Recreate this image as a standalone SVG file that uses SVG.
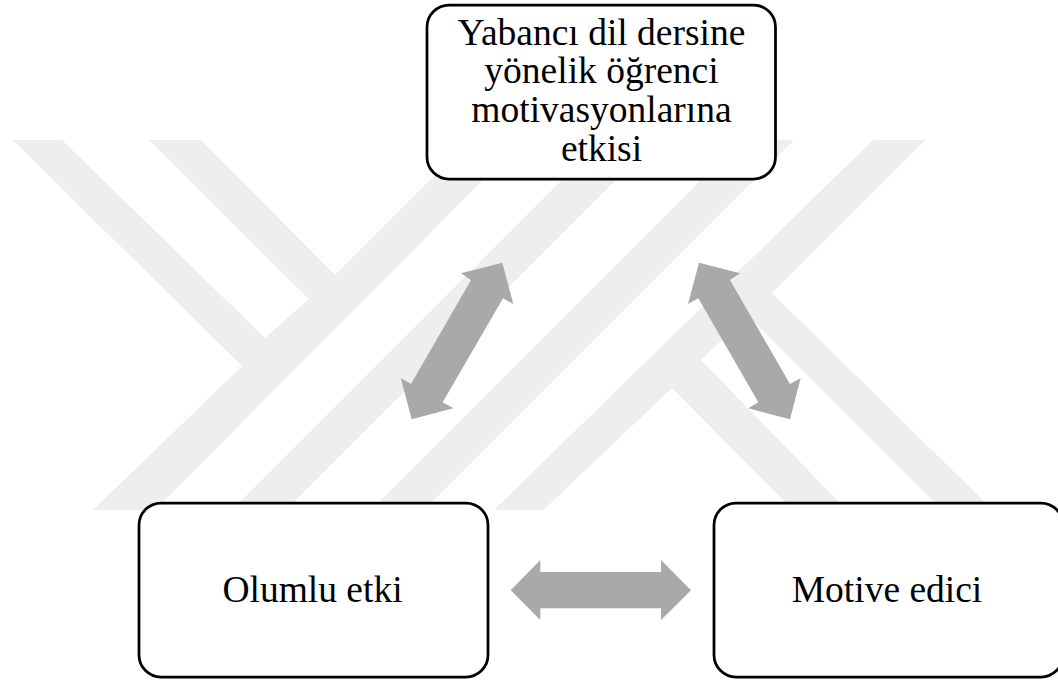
<svg xmlns="http://www.w3.org/2000/svg" width="1058" height="680" viewBox="0 0 1058 680">
<style>
.wm{fill:#eeeeee}
.box{fill:#fff;stroke:#000;stroke-width:2.75}
.arr{fill:#a9a9a9}
text{font-family:"Liberation Serif","Times New Roman",serif;font-size:37.5px;fill:#000;text-anchor:middle}
</style>
<rect width="1058" height="680" fill="#fff"/>
<g id="watermark">
<polygon class="wm" points="12.5,140 62,140 265,338 309,299 149,140 201,140 335,275 470,140 523,140 155,510 93,510 242,366"/>
<polygon class="wm" points="602,140 656,140 286,510 232,510"/>
<polygon class="wm" points="741,140 794,140 424,510 371,510"/>
<polygon class="wm" points="873,140 925.5,140 772,293 993,510 942,510 747.5,315.5 701,360 847,510 793,510 672,388 543.5,510 494,510"/>
</g>
<g id="connectors">
<polygon class="arr" points="502.3,262.7 461,273.3 471,280 411,384 400.7,378 411.7,419.3 453.3,408.3 442.7,402.3 503,298.3 513.3,304"/>
<polygon class="arr" points="699,262.7 740,273.3 730,280 790,384 800.7,378 790,419.3 748.3,408.3 758.3,402.3 698.3,298.3 688,304"/>
<polygon class="arr" points="510.7,590.3 540.3,560 540.3,572 661,572 661,560 691,590.3 661,620 661,608.3 540.3,608.3 540.3,620"/>
</g>
<g id="node-top">
<rect class="box" x="427" y="5" width="348.500" height="174" rx="22"/>
<text x="601.500" y="44.500">Yabancı dil dersine</text>
<text x="601.500" y="83">yönelik öğrenci</text>
<text x="601.500" y="122">motivasyonlarına</text>
<text x="601.500" y="161">etkisi</text>
</g>
<g id="node-left">
<rect class="box" x="139" y="503" width="349" height="174" rx="22"/>
<text x="312.500" y="602">Olumlu etki</text>
</g>
<g id="node-right">
<rect class="box" x="714" y="503" width="349" height="174" rx="22"/>
<text x="887" y="602">Motive edici</text>
</g>
</svg>
